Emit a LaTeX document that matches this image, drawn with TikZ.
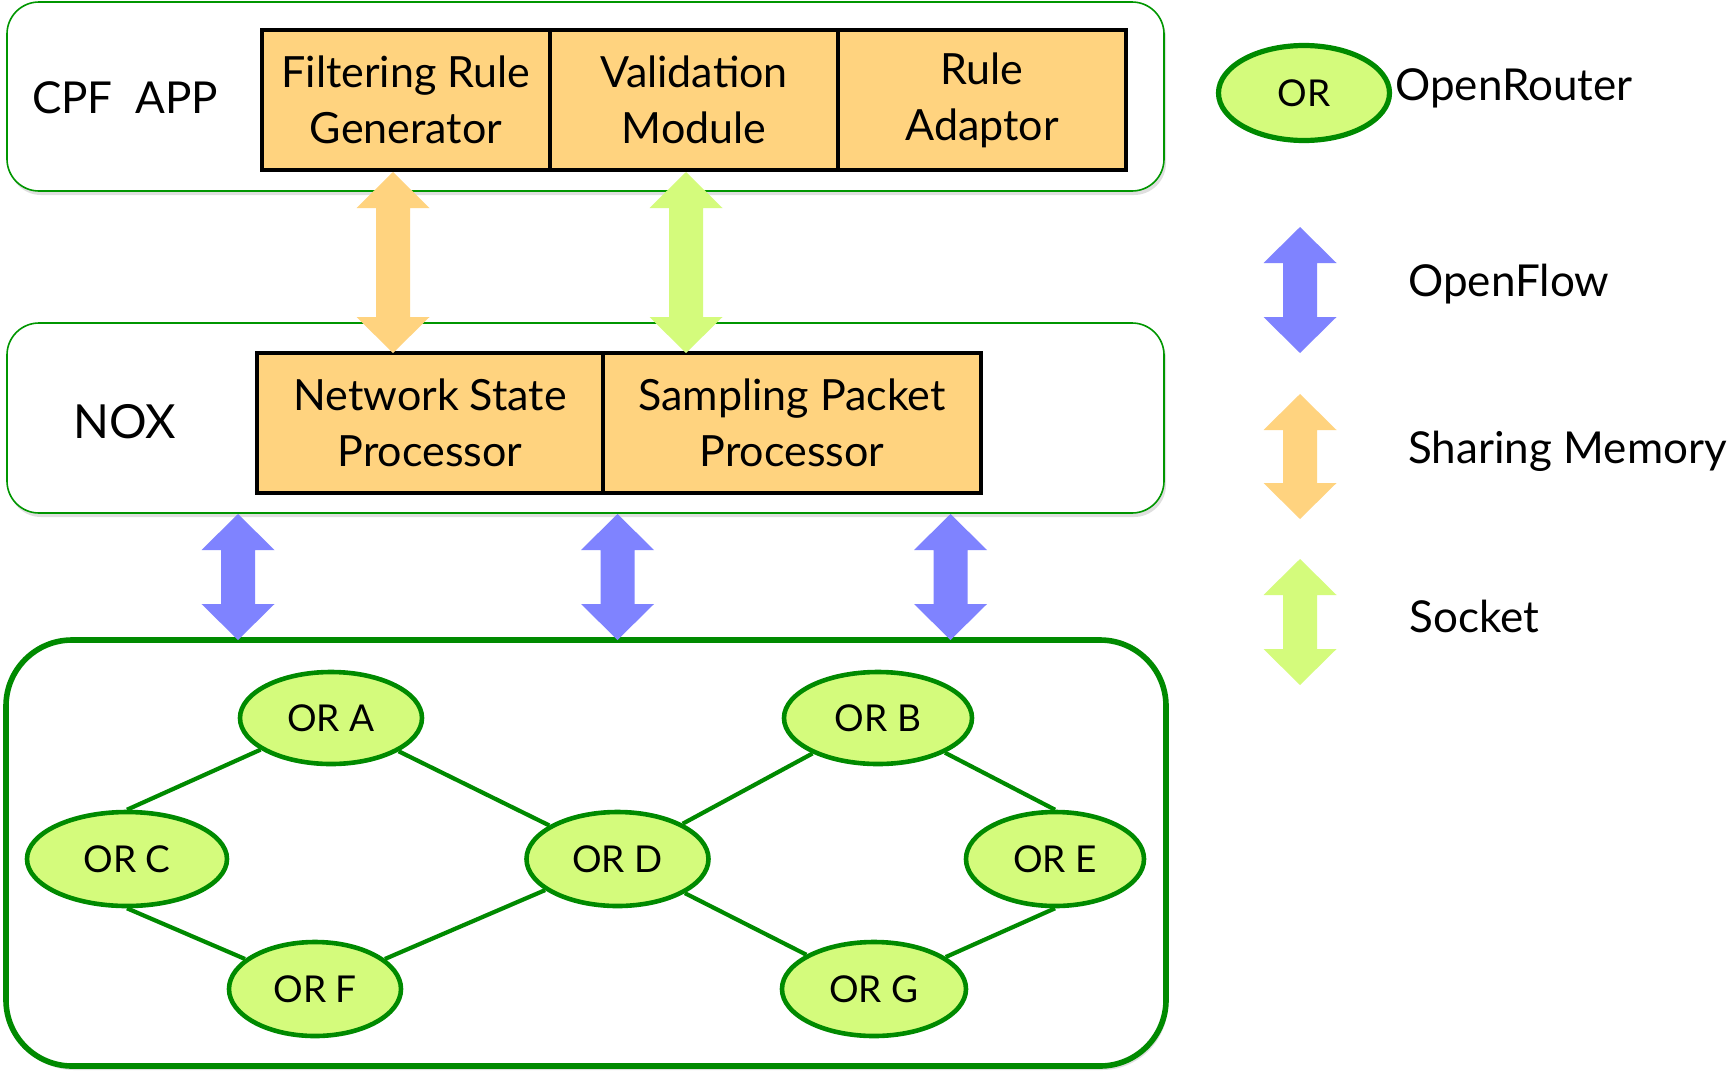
\documentclass[tikz,border=0pt]{standalone}
\usepackage{fontspec}
\setmainfont{Lato}
\usetikzlibrary{shapes.geometric,shadows}
\definecolor{boxorange}{RGB}{255,211,127}
\definecolor{lgreen}{RGB}{212,251,124}
\definecolor{dgreen}{RGB}{0,138,0}
\definecolor{ablue}{RGB}{127,131,255}
\definecolor{panelgreen}{RGB}{0,150,0}
\newcommand{\dblarrow}[4]{\fill[#1] (#2,#3) -- ({#2+36.5},{#3+36}) -- ({#2+17},{#3+36}) -- ({#2+17},{#4-36}) -- ({#2+36.5},{#4-36}) -- (#2,#4) -- ({#2-36.5},{#4-36}) -- ({#2-17},{#4-36}) -- ({#2-17},{#3+36}) -- ({#2-36.5},{#3+36}) -- cycle;}
\begin{document}
\begin{tikzpicture}[x=0.5pt,y=-0.5pt,
 panel/.style={draw=panelgreen, line width=0.8pt, fill=white, rounded corners=16pt,
   drop shadow={shadow xshift=1pt, shadow yshift=-2pt, opacity=0.25}},
 module/.style={draw=black, line width=2.2pt, fill=boxorange, minimum height=70pt,
   align=center, font=\fontsize{21.5}{28}\selectfont, inner sep=0pt},
 router/.style={ellipse, draw=dgreen, line width=2.3pt, fill=lgreen, inner sep=0pt,
   font=\fontsize{18.5}{22}\selectfont},
 link/.style={draw=dgreen, line width=2.1pt},
 lbl/.style={font=\fontsize{22}{26}\selectfont, inner sep=0pt},
]
\fill[white] (0,0) rectangle (1729,1071);
\useasboundingbox (0,0) rectangle (1729,1071);

% panels
\node[panel, minimum width=578.5pt, minimum height=94.5pt] (app) at (585.5,96.5) {};
\node[panel, minimum width=578.5pt, minimum height=95pt] (nox) at (585.5,418) {};
\node[panel, draw=dgreen, line width=2.8pt, rounded corners=33pt,
  minimum width=580pt, minimum height=213pt] (net) at (586,853) {};

% panel labels
\node[lbl] (applbl) at (125,98) {CPF~~APP};
\node[lbl, font=\fontsize{23.5}{26}\selectfont] (noxlbl) at (125,422) {NOX};

% modules
\node[module, minimum width=144pt] (frg) at (406,100) {Filtering Rule\\Generator};
\node[module, minimum width=144pt] (val) at (694,100) {Validation\\Module};
\node[module, minimum width=144pt] (ada) at (982,100) {Rule\\Adaptor};
\node[module, minimum width=173pt] (nsp) at (430,423) {Network State\\Processor};
\node[module, minimum width=189pt] (spp) at (792,423) {Sampling Packet\\Processor};

% inter-layer arrows
\dblarrow{boxorange}{393}{172}{353}
\dblarrow{lgreen}{686}{172}{353}
\dblarrow{ablue}{238}{514}{640}
\dblarrow{ablue}{617.5}{514}{640}
\dblarrow{ablue}{950.5}{514}{640}

% routers
\node[router, minimum width=91pt, minimum height=46pt] (A) at (331,718) {OR A};
\node[router, minimum width=94pt, minimum height=46pt] (B) at (878,718) {OR B};
\node[router, minimum width=100pt, minimum height=47pt] (C) at (127,859) {OR C};
\node[router, minimum width=91pt, minimum height=47pt] (D) at (617.5,859) {OR D};
\node[router, minimum width=89pt, minimum height=47pt] (E) at (1055,859) {OR E};
\node[router, minimum width=86pt, minimum height=47pt] (F) at (315,989) {OR F};
\node[router, minimum width=92pt, minimum height=47pt] (G) at (874,989) {OR G};

\draw[link] (A) -- (C.north);
\draw[link] (A) -- (D);
\draw[link] (C.south) -- (F);
\draw[link] (F) -- (D);
\draw[link] (D) -- (B);
\draw[link] (D) -- (G);
\draw[link] (B) -- (E.north);
\draw[link] (E.south) -- (G);

% legend
\node[router, line width=2.6pt, minimum width=85.5pt, minimum height=47.5pt] (lor) at (1304,93) {OR};
\node[lbl, anchor=west] (lorlbl) at (1395,88) {OpenRouter};
\dblarrow{ablue}{1300}{227}{353}
\node[lbl, anchor=west] (lof) at (1408,284) {OpenFlow};
\dblarrow{boxorange}{1300}{394}{519}
\node[lbl, anchor=west] (lsm) at (1408,451) {Sharing Memory};
\dblarrow{lgreen}{1300}{559}{685}
\node[lbl, anchor=west] (lsk) at (1409,616) {Socket};
\end{tikzpicture}
\end{document}
